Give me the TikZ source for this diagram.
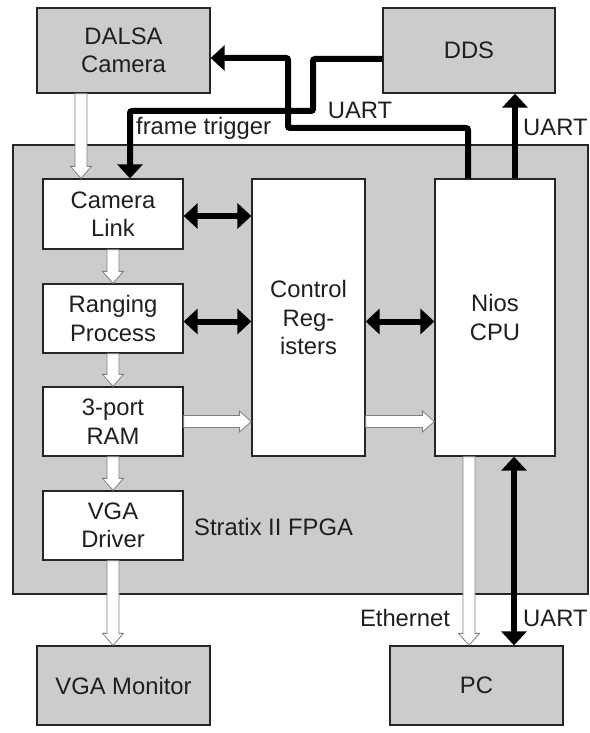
\documentclass[tikz,border=0pt]{standalone}
\usepackage{fontspec}
\setmainfont{Liberation Sans}
\usetikzlibrary{arrows.meta,calc}
\definecolor{boxgray}{gray}{0.8}
\definecolor{edgecol}{gray}{0.15}
\definecolor{hollowedge}{gray}{0.5}
\newcommand\hollowarrow[2]{%
  \draw[hollow] let \p1=(#1), \p2=(#2), \n1={atan2(\y2-\y1,\x2-\x1)}, \n2={veclen(\x2-\x1,\y2-\y1)} in
    [shift={(\p1)}, rotate=\n1]
    (0pt,6pt) -- ({\n2*1pt-12pt},6pt) -- ({\n2*1pt-12pt},10.5pt) -- ({\n2*1pt},0pt)
    -- ({\n2*1pt-12pt},-10.5pt) -- ({\n2*1pt-12pt},-6pt) -- (0pt,-6pt) -- cycle;}
\begin{document}
\begin{tikzpicture}[x=1pt,y=-1pt,
  every node/.style={font=\fontsize{23.8}{28.5}\selectfont, align=center, inner sep=0pt, text=black!88},
  blk/.style={draw=edgecol, line width=1.3pt, fill=white},
  ext/.style={draw=edgecol, line width=1.3pt, fill=boxgray},
  hollow/.style={draw=hollowedge, line width=0.8pt, fill=white, line join=miter},
  bus/.style={line width=6pt, draw=black, rounded corners=2pt, >={Triangle[width=25pt,length=14pt]}},
  lbl/.style={}]
\useasboundingbox (0,0) rectangle (589,733);
% FPGA
\node[ext, minimum width=575pt, minimum height=449pt] (fpga) at (300.5,369.5) {};
\node[lbl, anchor=west] (stratix) at (194,527) {Stratix II FPGA};
% external boxes
\node[ext, minimum width=173pt, minimum height=85pt] (dalsa) at (123.5,50.5) {DALSA\\Camera};
\node[ext, minimum width=172pt, minimum height=85pt] (dds) at (469,50.5) {DDS};
\node[ext, minimum width=173pt, minimum height=79pt] (monitor) at (123.5,685.5) {VGA Monitor};
\node[ext, minimum width=173pt, minimum height=79pt] (pc) at (476.5,685.5) {PC};
% internal blocks
\node[blk, minimum width=140pt, minimum height=70pt] (camlink) at (113,214) {Camera\\Link};
\node[blk, minimum width=140pt, minimum height=69pt] (ranging) at (113,318.5) {Ranging\\Process};
\node[blk, minimum width=140pt, minimum height=69pt] (ram) at (113,421.5) {3-port\\RAM};
\node[blk, minimum width=140pt, minimum height=69pt] (vga) at (113,525.5) {VGA\\Driver};
\node[blk, minimum width=113pt, minimum height=277pt] (ctrl) at (308.5,317.5) {Control\\Reg-\\isters};
\node[blk, minimum width=120pt, minimum height=277pt] (nios) at (495,317.5) {Nios\\CPU};
% hollow data arrows
\coordinate (camin) at ([xshift=-32pt]camlink.north);
\coordinate (eth) at ([xshift=-26pt]nios.south);
\hollowarrow{camin |- dalsa.south}{camin}
\hollowarrow{camlink.south}{ranging.north}
\hollowarrow{ranging.south}{ram.north}
\hollowarrow{ram.south}{vga.north}
\hollowarrow{vga.south}{vga.south |- monitor.north}
\hollowarrow{ram.east}{ram.east -| ctrl.west}
\hollowarrow{ctrl.east |- ram.east}{nios.west |- ram.east}
\hollowarrow{eth}{eth |- pc.north}
% thick control connectors
\coordinate (u1) at (288,128);
\coordinate (f1) at (313,111);
\draw[bus,->] ([xshift=-27pt]nios.north) |- (u1) |- ([yshift=-7.5pt]dalsa.east);
\draw[bus,->] ([yshift=-8.5pt]dds.west) -| (f1) -| ([xshift=17pt]camlink.north);
\draw[bus,->] ([xshift=20pt]nios.north) -- ([xshift=20pt]nios.north |- dds.south);
\draw[bus,<->] ([yshift=-2pt]camlink.east) -- ([yshift=-2pt]camlink.east -| ctrl.west);
\draw[bus,<->] ([yshift=-3pt]ranging.east) -- ([yshift=-3pt]ranging.east -| ctrl.west);
\draw[bus,<->] ([yshift=-3pt]ranging.east -| ctrl.east) -- ([yshift=-3pt]ranging.east -| nios.west);
\draw[bus,<->] ([xshift=19pt]nios.south) -- ([xshift=19pt]nios.south |- pc.north);
% labels
\node[lbl, anchor=west] (ftlbl) at (136,128) {frame trigger};
\node[lbl] (uartmid) at (360,110) {UART};
\node[lbl, anchor=west] (uartdds) at (523,127) {UART};
\node[lbl] (ethlbl) at (405,618) {Ethernet};
\node[lbl, anchor=west] (uartpc) at (523,618) {UART};
\end{tikzpicture}
\end{document}
